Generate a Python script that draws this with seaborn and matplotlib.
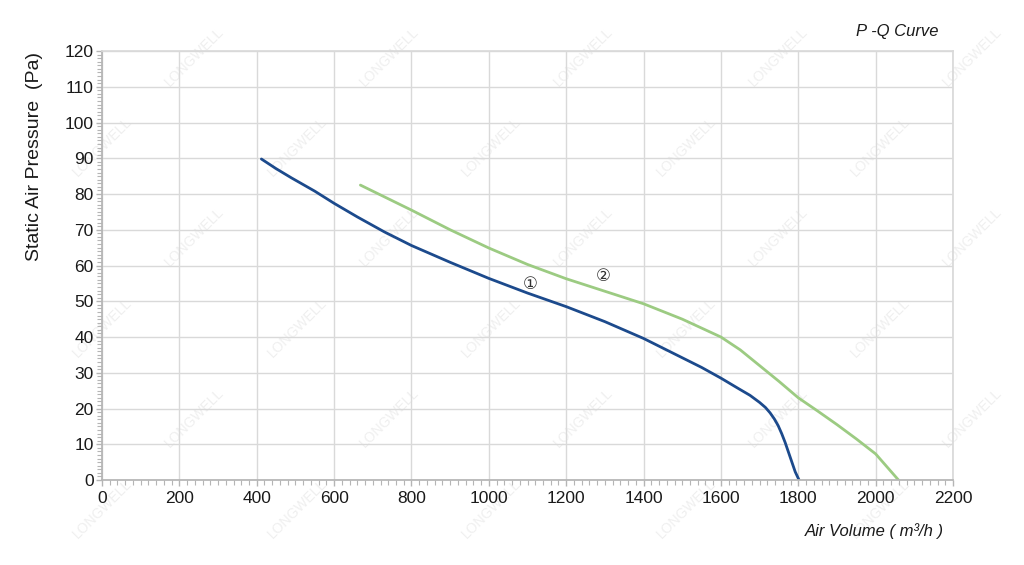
import numpy as np
import pandas as pd
import matplotlib
matplotlib.use('Agg')
import matplotlib.pyplot as plt
import seaborn as sns
from matplotlib.ticker import MultipleLocator

# curve 1 (blue) and curve 2 (green)
q1 = [412, 450, 490, 550, 600, 660, 730, 800, 900, 1000, 1100, 1200, 1300, 1400, 1500, 1550, 1600, 1645, 1675, 1700,
      1715, 1727, 1738, 1748, 1757, 1766, 1779, 1792, 1802]
p1 = [89.8, 87.1, 84.5, 80.8, 77.4, 73.6, 69.4, 65.6, 60.9, 56.4, 52.3, 48.5, 44.3, 39.6, 34.2, 31.5, 28.5, 25.6, 23.7, 21.7,
      20.3, 18.8, 17.1, 15.2, 13.0, 10.5, 6.4, 2.3, 0.0]
q2 = [668, 700, 800, 900, 1000, 1100, 1200, 1300, 1400, 1500, 1600, 1650, 1700, 1750, 1800, 1850, 1900, 1950, 2000, 2059]
p2 = [82.5, 80.8, 75.5, 70.0, 64.9, 60.3, 56.3, 52.8, 49.3, 45.0, 40.0, 36.4, 32.0, 27.6, 23.0, 19.3, 15.5, 11.5, 7.3, 0.0]

xticks = list(range(0, 2201, 200))
yticks = list(range(0, 121, 10))

df = pd.concat([
    pd.DataFrame({'q': q1, 'p': p1, 'curve': '1'}),
    pd.DataFrame({'q': q2, 'p': p2, 'curve': '2'}),
])

sns.set_theme(style='white')
plt.rcParams['font.family'] = ['Liberation Sans', 'DejaVu Sans']

fig = plt.figure(figsize=(10.24, 5.65), dpi=100)
ax = fig.add_axes([0.0996, 0.1504, 0.8311, 0.7593])

# faint watermark, kept behind the curves and away from the edges
for row in range(6):
    for col in range(5):
        x = 0.10 + col * 0.19 + (row % 2) * 0.09
        y = 0.10 + row * 0.16
        if x > 0.96:
            continue
        fig.text(x, y, 'LONGWELL', rotation=45, fontsize=10, color='#efefef',
                 ha='center', va='center', zorder=-1)

sns.lineplot(data=df, x='q', y='p', hue='curve', sort=False, estimator=None,
             palette={'1': '#1c4a8c', '2': '#9ccb82'}, linewidth=2.0,
             legend=False, ax=ax)
for ln in ax.lines:
    ln.set_solid_joinstyle('round')
ax.patch.set_alpha(0)

ax.set_xlim(0, 2200)
ax.set_ylim(0, 120)
ax.set_xticks(xticks)
ax.set_yticks(yticks)
ax.xaxis.set_minor_locator(MultipleLocator(20))
ax.yaxis.set_minor_locator(MultipleLocator(1))
ax.grid(True, which='major', color='#d9d9d9', linewidth=1.0)
ax.tick_params(which='both', direction='out', colors='#b5b5b5', labelcolor='#1a1a1a', labelsize=12.5)
ax.tick_params(which='major', length=4, width=1)
ax.tick_params(which='minor', length=3.5, width=0.8)
ax.tick_params(axis='x', bottom=True, pad=4)
ax.tick_params(axis='y', left=True, pad=2)
ax.xaxis.set_ticks_position('bottom')
ax.yaxis.set_ticks_position('left')
for s in ax.spines.values():
    s.set_color('#d9d9d9')
ax.spines['left'].set_color('#b5b5b5')
ax.spines['bottom'].set_color('#b5b5b5')

ax.set_xlabel('')
ax.set_ylabel('Static Air Pressure  (Pa)', fontsize=14, color='#1a1a1a')
ax.yaxis.set_label_coords(-0.069, 0.753)

ax.text(1106, 54.8, '①', fontsize=12, ha='center', va='center', color='#333333',
        family=['DejaVu Sans'])
ax.text(1295, 57.0, '②', fontsize=12, ha='center', va='center', color='#333333',
        family=['DejaVu Sans'])

fig.text(0.876, 0.945, 'P -Q Curve', fontsize=12, style='italic', ha='center', va='center', color='#1a1a1a')
fig.text(0.8535, 0.06, 'Air Volume ( m³/h )', fontsize=12, style='italic', ha='center', va='center', color='#1a1a1a')

fig.savefig('out.png', dpi=100, facecolor='white')
